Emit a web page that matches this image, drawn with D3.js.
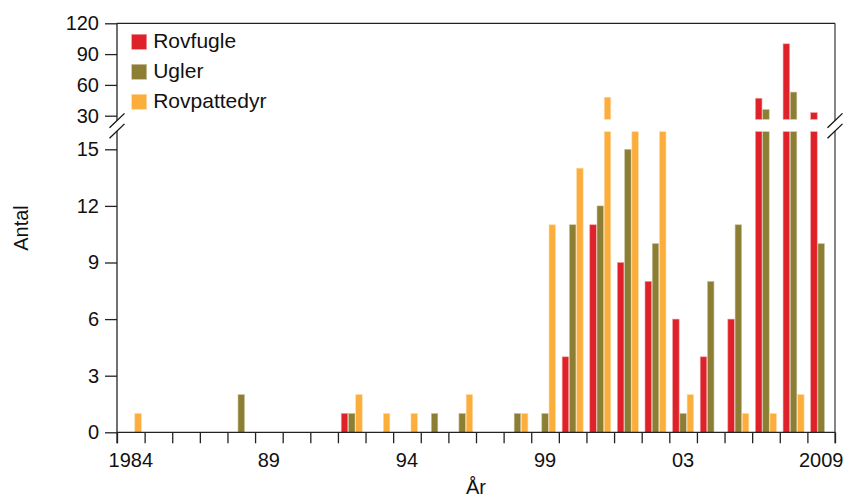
<!DOCTYPE html>
<html>
<head>
<meta charset="utf-8">
<script src="https://cdn.jsdelivr.net/npm/d3@7"></script>
<style>
  body { margin: 0; background: #fff; }
  text { font-family: "Liberation Sans", Arial, Helvetica, sans-serif; fill: #111; }
</style>
</head>
<body>
<script>
const width = 848;
const height = 499;

// data
const years = d3.range(1984, 2010);
const seriesNames = ['Rovfugle', 'Ugler', 'Rovpattedyr'];
const seriesColors = ['#df2129', '#8c7e32', '#fbae3c'];

const rovfugle    = [0,0,0,0,0,0,0,0,1,0,0,0,0,0,0,0,4,11,9,8,6,4,6,47,100,33];
const ugler       = [0,0,0,0,2,0,0,0,1,0,0,1,1,0,1,1,11,12,15,10,1,8,11,36,53,10];
const rovpattedyr = [1,0,0,0,0,0,0,0,2,1,1,0,2,0,1,11,14,48,20,20,2,0,1,1,2,0];

const lowTicks = [0, 3, 6, 9, 12, 15];
const highTicks = [30, 60, 90, 120];
const xLabelYears = [1984, 1989, 1994, 1999, 2004, 2009];
const xLabelTexts = ['1984', '89', '94', '99', '03', '2009'];

// layout
const plotLeft = 117, plotRight = 835, plotTop = 23.3, base = 432.3;
const lowTop = 149.3;         // y of 15
const lowClip = 131.7;        // lower panel is cut here
const highClip = 119.3;       // upper panel starts here
const highBottom = 115.7;     // y of 30

const svg = d3.select('body')
  .append('svg')
  .attr('width', width)
  .attr('height', height);

const x0 = d3.scaleBand().domain(years).range([plotLeft, plotRight]).paddingInner(0).paddingOuter(0);
const bw = x0.bandwidth();
const x1 = d3.scaleBand().domain(seriesNames).range([bw * 0.12, bw * 0.88]).paddingInner(0.1);
const xEdge = d3.scaleLinear().domain([1984, 2010]).range([plotLeft, plotRight]);

const yLow = d3.scaleLinear().domain([0, 15]).range([base, lowTop]);
const yHigh = d3.scaleLinear().domain([30, 120]).range([highBottom, plotTop]);
const lowMax = yLow.invert(lowClip);
const highMin = yHigh.invert(highClip);

const values = [rovfugle, ugler, rovpattedyr];
const rows = [];
seriesNames.forEach((s, si) => {
  years.forEach((yr, i) => {
    rows.push({ series: s, color: seriesColors[si], year: yr, value: values[si][i] });
  });
});

const bars = svg.append('g');
const lightEdge = c => d3.interpolateRgb(c, '#fff')(0.55);

// lower panel pieces
bars.selectAll('rect.low')
  .data(rows.filter(d => d.value > 0))
  .enter()
  .append('rect')
  .attr('class', 'low')
  .attr('x', d => x0(d.year) + x1(d.series))
  .attr('width', x1.bandwidth())
  .attr('y', d => yLow(Math.min(d.value, lowMax)))
  .attr('height', d => base - yLow(Math.min(d.value, lowMax)))
  .attr('fill', d => d.color)
  .attr('stroke', d => lightEdge(d.color))
  .attr('stroke-width', 0.6);

// upper panel pieces
bars.selectAll('rect.high')
  .data(rows.filter(d => d.value > highMin))
  .enter()
  .append('rect')
  .attr('class', 'high')
  .attr('x', d => x0(d.year) + x1(d.series))
  .attr('width', x1.bandwidth())
  .attr('y', d => yHigh(d.value))
  .attr('height', d => highClip - yHigh(d.value))
  .attr('fill', d => d.color)
  .attr('stroke', d => lightEdge(d.color))
  .attr('stroke-width', 0.6);

// frame
const frame = svg.append('g').attr('stroke', '#222').attr('stroke-width', 1.3).attr('fill', 'none');
frame.append('line').attr('x1', plotLeft).attr('x2', plotLeft).attr('y1', plotTop).attr('y2', base + 11);
frame.append('line').attr('x1', plotRight).attr('x2', plotRight).attr('y1', plotTop).attr('y2', base + 11).attr('stroke', '#444');
frame.append('line').attr('x1', plotLeft).attr('x2', plotRight).attr('y1', plotTop).attr('y2', plotTop);
frame.append('line').attr('x1', plotLeft).attr('x2', plotRight).attr('y1', base).attr('y2', base);

// y axes
const axLow = svg.append('g')
  .attr('transform', `translate(${plotLeft},0)`)
  .call(d3.axisLeft(yLow).tickValues(lowTicks).tickSize(12).tickPadding(6).tickSizeOuter(0));
const axHigh = svg.append('g')
  .attr('transform', `translate(${plotLeft},0)`)
  .call(d3.axisLeft(yHigh).tickValues(highTicks).tickSize(12).tickPadding(6).tickSizeOuter(0));
[axLow, axHigh].forEach(a => {
  a.select('.domain').remove();
  a.selectAll('line').attr('stroke', '#222').attr('stroke-width', 1.3);
  a.selectAll('text').style('font-size', '20px').attr('fill', '#111');
});

// x axis ticks at the year boundaries
const axX = svg.append('g')
  .attr('transform', `translate(0,${base})`)
  .call(d3.axisBottom(xEdge).tickValues(d3.range(1984, 2011)).tickSize(11).tickFormat(''));
axX.select('.domain').remove();
axX.selectAll('line').attr('stroke', '#222').attr('stroke-width', 1.3);

svg.append('g').selectAll('text')
  .data(xLabelYears)
  .enter()
  .append('text')
  .attr('x', d => x0(d) + bw / 2)
  .attr('y', 467)
  .attr('text-anchor', 'middle')
  .style('font-size', '20px')
  .text((d, i) => xLabelTexts[i]);

// break marks
function breakMark(cx) {
  const g = svg.append('g');
  const dx = 7.5, dy = 7.2, gap = 10.5, cy = 120.6;
  g.append('polygon')
    .attr('points', [
      [cx - dx, cy + dy], [cx + dx, cy - dy],
      [cx + dx, cy - dy + gap], [cx - dx, cy + dy + gap]
    ].map(p => p.join(',')).join(' '))
    .attr('fill', '#fff');
  [0, gap].forEach(o => {
    g.append('line')
      .attr('x1', cx - dx).attr('y1', cy + dy + o)
      .attr('x2', cx + dx).attr('y2', cy - dy + o)
      .attr('stroke', '#111').attr('stroke-width', 1.3);
  });
}
breakMark(plotLeft);
breakMark(plotRight);

// axis titles
svg.append('text')
  .attr('transform', 'translate(28,228) rotate(-90)')
  .attr('text-anchor', 'middle')
  .style('font-size', '20px')
  .text('Antal');

svg.append('text')
  .attr('x', (plotLeft + plotRight) / 2)
  .attr('y', 494)
  .attr('text-anchor', 'middle')
  .style('font-size', '20px')
  .text('År');

// legend
const legend = svg.append('g').attr('transform', 'translate(131.7,34.3)');
seriesNames.forEach((s, i) => {
  legend.append('rect')
    .attr('x', 0).attr('y', i * 30)
    .attr('width', 15).attr('height', 15)
    .attr('fill', seriesColors[i])
    .attr('stroke', lightEdge(seriesColors[i]))
    .attr('stroke-width', 0.6);
  legend.append('text')
    .attr('x', 21.5).attr('y', i * 30 + 13.8)
    .style('font-size', '21px')
    .text(s);
});
</script>
</body>
</html>
